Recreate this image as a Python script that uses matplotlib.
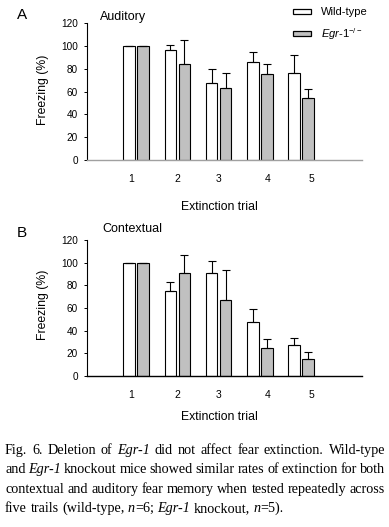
import matplotlib
matplotlib.use("Agg")
import matplotlib.pyplot as plt
from matplotlib.patches import Patch
import numpy as np

plt.rcParams['font.family'] = ['Liberation Sans', 'DejaVu Sans']
plt.rcParams['mathtext.fontset'] = 'custom'
plt.rcParams['mathtext.rm'] = 'Liberation Sans'
plt.rcParams['mathtext.it'] = 'Liberation Sans:italic'

trials = [1, 2, 3, 4, 5]
tick_labels = ["1", "2", "3", "4", "5"]
tick_pos = [0.88, 2.0, 3.0, 4.19, 5.26]  # labels sit a bit off-centre in the original

# auditory
aud_wt = [100, 96.3, 67.5, 86.1, 76.2]
aud_wt_err = [0, 4.0, 12.2, 8.4, 15.4]
aud_ko = [100, 84.1, 62.9, 75.4, 54.5]
aud_ko_err = [0, 21.1, 13.0, 8.4, 7.8]

# contextual
ctx_wt = [100, 75.2, 91.2, 47.7, 27.5]
ctx_wt_err = [0, 7.6, 10.0, 11.7, 6.2]
ctx_ko = [100, 90.7, 66.7, 24.9, 15.3]
ctx_ko_err = [0, 15.8, 27.2, 7.9, 6.1]

W, H = 389, 527
fig = plt.figure(figsize=(W / 100, H / 100), dpi=100)

gray = "#c0c0c0"
bw = 0.28
off = 0.17
x = np.array(trials, dtype=float)


def panel(top_px, bottom_px, wt, wt_err, ko, ko_err, base_color):
    ax = fig.add_axes([87 / W, 1 - bottom_px / H, 275 / W, (bottom_px - top_px) / H])
    ax.bar(x - off, wt, bw, color="white", edgecolor="black", linewidth=0.8, zorder=2)
    ax.bar(x + off, ko, bw, color=gray, edgecolor="black", linewidth=0.8, zorder=2)
    ax.errorbar(x - off, wt, yerr=[np.zeros(5), wt_err], fmt="none", ecolor="black",
                elinewidth=0.8, capsize=2.6, capthick=0.8, zorder=3)
    ax.errorbar(x + off, ko, yerr=[np.zeros(5), ko_err], fmt="none", ecolor="black",
                elinewidth=0.8, capsize=2.6, capthick=0.8, zorder=3)
    ax.set_xlim(-0.19, 6.48)
    ax.set_ylim(0, 120)
    ax.set_yticks(range(0, 121, 20))
    ax.tick_params(axis="y", length=2.5, width=0.7, labelsize=7.2, pad=4)
    ax.set_xticks(tick_pos)
    ax.set_xticklabels(tick_labels)
    ax.tick_params(axis="x", length=0, labelsize=7.5, pad=10)
    for s in ["top", "right"]:
        ax.spines[s].set_visible(False)
    ax.spines["left"].set_linewidth(0.8)
    ax.spines["bottom"].set_linewidth(1.0)
    ax.spines["bottom"].set_color(base_color)
    return ax


axA = panel(23, 160, aud_wt, aud_wt_err, aud_ko, aud_ko_err, "#a0a0a0")
axB = panel(240, 376, ctx_wt, ctx_wt_err, ctx_ko, ctx_ko_err, "black")

def ft(xp, yp, s, **kw):
    fig.text(xp / W, 1 - yp / H, s, **kw)

ft(22, 15, "A", fontsize=11, ha="center", va="center")
ft(22, 233, "B", fontsize=11, ha="center", va="center")
ft(100, 17, "Auditory", fontsize=9, ha="left", va="center")
ft(102, 229, "Contextual", fontsize=9, ha="left", va="center")
ft(43, 90, "Freezing (%)", fontsize=8.8, rotation=90, ha="center", va="center")
ft(43, 305, "Freezing (%)", fontsize=8.8, rotation=90, ha="center", va="center")
ft(219, 207, "Extinction trial", fontsize=8.8, ha="center", va="center")
ft(219, 417, "Extinction trial", fontsize=8.8, ha="center", va="center")

handles = [Patch(facecolor="white", edgecolor="black", linewidth=0.9),
           Patch(facecolor=gray, edgecolor="black", linewidth=0.9)]
labels = ["Wild-type", r"$\mathit{Egr}$-$\mathit{1}^{-/-}$"]
fig.legend(handles, labels, loc="upper left", bbox_to_anchor=(289 / W, 1 - 3 / H),
           frameon=False, fontsize=8, handlelength=1.6, handleheight=0.35,
           handletextpad=0.9, labelspacing=0.75, borderaxespad=0)

# caption, justified word by word
caption = [
    "Fig. 6.  Deletion of *Egr-1* did not affect fear  extinction. Wild-type",
    "and *Egr-1* knockout mice showed similar rates of extinction for both",
    "contextual and auditory fear memory when tested repeatedly across",
    "five trails (wild-type, *n*=6; *Egr-1* knockout, *n*=5).",
]
cap_base = [454, 473, 493, 512]
x0, x1 = 5, 385
renderer = fig.canvas.get_renderer()
cap_kw = dict(fontsize=10.2, family="Liberation Serif", va="baseline", ha="left")


def seg_width(s, italic):
    t = fig.text(0, 0, s, style="italic" if italic else "normal", **cap_kw)
    w = t.get_window_extent(renderer).width
    t.remove()
    return w


for i, (line, yp) in enumerate(zip(caption, cap_base)):
    words = line.split()
    parsed = []
    for w in words:
        parts = w.split("*")
        segs = [(p, k % 2 == 1) for k, p in enumerate(parts) if p]
        parsed.append(segs)
    widths = [sum(seg_width(p, it) for p, it in segs) for segs in parsed]
    if i < len(caption) - 1:
        gap = (x1 - x0 - sum(widths)) / (len(words) - 1)
    else:
        gap = seg_width("a b", False) - seg_width("ab", False)
    xp = x0
    for segs, wd in zip(parsed, widths):
        xx = xp
        for p, it in segs:
            ft(xx, yp, p, style="italic" if it else "normal", **cap_kw)
            xx += seg_width(p, it)
        xp += wd + gap

fig.savefig("out.png", dpi=100)
